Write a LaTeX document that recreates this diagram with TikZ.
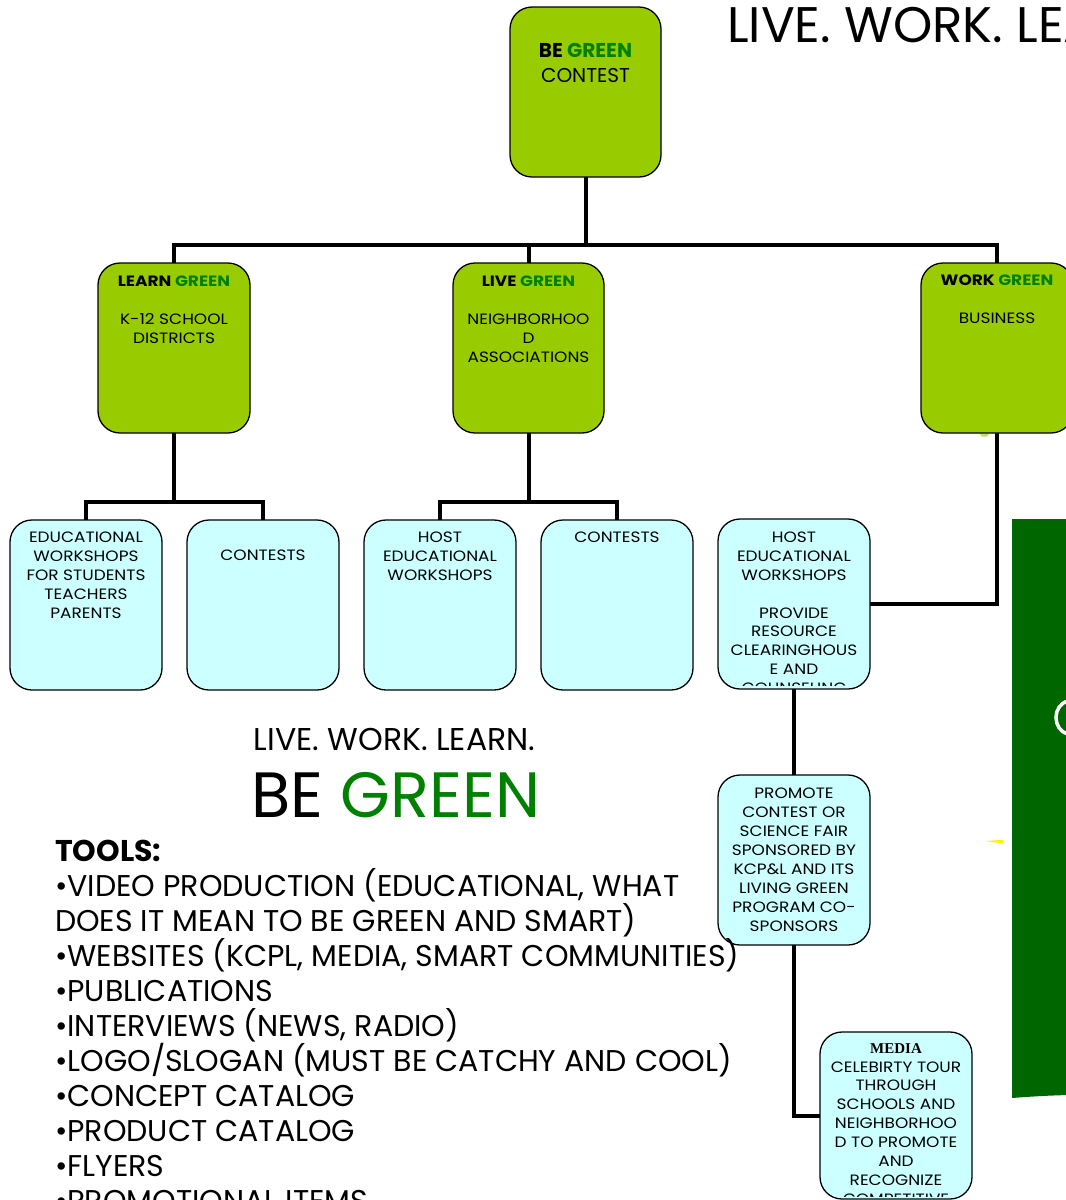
\documentclass[tikz,border=0pt]{standalone}
\usepackage{fontspec}
\setmainfont{Poppins}
\newfontfamily\boxfont[FakeStretch=1.13]{Poppins}
\newfontfamily\serifb{Liberation Serif}
\usetikzlibrary{backgrounds}
\definecolor{limeg}{HTML}{99CC00}
\definecolor{paleb}{HTML}{CCFFFF}
\definecolor{darkg}{HTML}{006600}
\definecolor{txtg}{HTML}{008000}
\definecolor{specg}{HTML}{B8E07A}
\newcommand{\gr}[1]{\textcolor{txtg}{#1}}
\tikzset{
  gbox/.style={draw=black, line width=1.3pt, fill=limeg, rounded corners=22pt,
    minimum width=152pt, minimum height=170pt, inner sep=0pt},
  cbox/.style={gbox, fill=paleb},
  conn/.style={draw=black, line width=4pt, line join=miter, line cap=rect},
  btext/.style={font=\boxfont\fontsize{15}{19}\selectfont, align=center, inner sep=0pt, anchor=north},
  bigtext/.style={inner sep=0pt},
}
\begin{document}
\begin{tikzpicture}[x=1pt,y=-1pt]
\useasboundingbox (0,0) rectangle (1066,1200);
\clip (0,0) rectangle (1066,1200);

% boxes
\node[gbox, minimum width=151pt] (top) at (585.5,92) {};
\node[gbox] (learn) at (174,348) {};
\node[gbox, minimum width=151pt] (live) at (528.5,348) {};
\node[gbox] (work) at (997,348) {};
\node[cbox] (edu) at (86,605) {};
\node[cbox] (cont1) at (263,605) {};
\node[cbox] (host1) at (440,605) {};
\node[cbox] (cont2) at (617,605) {};
\node[cbox] (host2) at (794,604) {};
\node[cbox] (prom) at (794,860) {};
\node[cbox, minimum height=167pt] (media) at (896,1115.5) {};

\coordinate (bus1) at (585.5,245);
\coordinate (lbus) at (174,502);
\coordinate (vbus) at (528.5,502);

\begin{pgfonlayer}{background}
\fill[white] (0,0) rectangle (1066,1200);
\draw[conn] (top.south) -- (bus1);
\draw[conn] (learn.north) |- (work.north |- bus1) -- (work.north);
\draw[conn] (live.north) -- (live.north |- bus1);
\draw[conn] (learn.south) -- (lbus);
\draw[conn] (edu.north) |- (cont1.north |- lbus) -- (cont1.north);
\draw[conn] (live.south) -- (vbus);
\draw[conn] (host1.north) |- (cont2.north |- vbus) -- (cont2.north);
\draw[conn] (work.south) |- (host2.east);
\draw[conn] (host2.south) -- (prom.north);
\draw[conn] (prom.south) |- (media.west);
\end{pgfonlayer}

% box texts
\node[btext, font=\rmfamily\fontsize{20}{25}\selectfont] (ttop) at (585.5,43) {{\bfseries BE \gr{GREEN}}\\CONTEST};
\node[btext] (tlearn) at (174,276) {{\bfseries LEARN \gr{GREEN}}\\[19pt]K-12 SCHOOL\\DISTRICTS};
\node[btext] (tlive) at (528.5,276) {{\bfseries LIVE \gr{GREEN}}\\[19pt]NEIGHBORHOO\\D\\ASSOCIATIONS};
\node[btext] (twork) at (997,275) {{\bfseries WORK \gr{GREEN}}\\[19pt]BUSINESS};
\node[btext] (tedu) at (86,532) {EDUCATIONAL\\WORKSHOPS\\FOR STUDENTS\\TEACHERS\\PARENTS};
\node[btext] (tcont1) at (263,550) {CONTESTS};
\node[btext] (thost1) at (440,532) {HOST\\EDUCATIONAL\\WORKSHOPS};
\node[btext] (tcont2) at (617,532) {CONTESTS};
\begin{scope}
\clip (718,519) rectangle (870,685);
\node[btext, font=\boxfont\fontsize{15}{18.8}\selectfont] (thost2) at (794,532) {HOST\\EDUCATIONAL\\WORKSHOPS\\[18.8pt]PROVIDE\\RESOURCE\\CLEARINGHOUS\\E AND\\COUNSELING};
\end{scope}
\node[btext] (tprom) at (794,788) {PROMOTE\\CONTEST OR\\SCIENCE FAIR\\SPONSORED BY\\KCP\&L AND ITS\\LIVING GREEN\\PROGRAM CO-\\SPONSORS};
\begin{scope}
\clip (820,1032) rectangle (972,1196);
\node[btext, font=\boxfont\fontsize{15}{18.9}\selectfont] (tmedia) at (896,1043) {{\serifb\bfseries\fontsize{15}{18.9}\selectfont MEDIA}\\CELEBIRTY TOUR\\THROUGH\\SCHOOLS AND\\NEIGHBORHOO\\D TO PROMOTE\\AND\\RECOGNIZE\\COMPETITIVE};
\end{scope}

% right decorations
\fill[darkg] (1012,519) -- (1070,519) -- (1070,1095) .. controls (1045,1095.5) and (1025,1097) .. (1012,1098) -- cycle;
\draw[white, line width=3.5pt] (1068,701) .. controls (1052,705) and (1052,730) .. (1068,734);
\fill[yellow] (985,841) -- (1003,839.8) -- (1003,843.5) -- cycle;
\fill[specg] (980,434) -- (989,434) -- (987,436.5) -- (982,436.5) -- cycle;

% titles
\node[bigtext, anchor=north west, font=\fontsize{50}{56}\selectfont] (lwltop) at (727,7) {LIVE. WORK. LEARN.};
\node[bigtext, anchor=north, font=\fontsize{31.5}{36}\selectfont] (lwlmid) at (394.5,728) {LIVE. WORK. LEARN.};
\node[bigtext, anchor=north, font=\fontsize{64}{70}\selectfont] (begreen) at (396,772) {BE \gr{GREEN}};

% tools
\node[bigtext, anchor=north west, align=left, font=\fontsize{30}{35}\selectfont] (tools) at (55,840) {%
{\bfseries TOOLS:}\\
•VIDEO PRODUCTION (EDUCATIONAL, WHAT\\
DOES IT MEAN TO BE GREEN AND SMART)\\
•WEBSITES (KCPL, MEDIA, SMART COMMUNITIES)\\
•PUBLICATIONS\\
•INTERVIEWS (NEWS, RADIO)\\
•LOGO/SLOGAN (MUST BE CATCHY AND COOL)\\
•CONCEPT CATALOG\\
•PRODUCT CATALOG\\
•FLYERS\\
•PROMOTIONAL ITEMS};
\end{tikzpicture}
\end{document}
